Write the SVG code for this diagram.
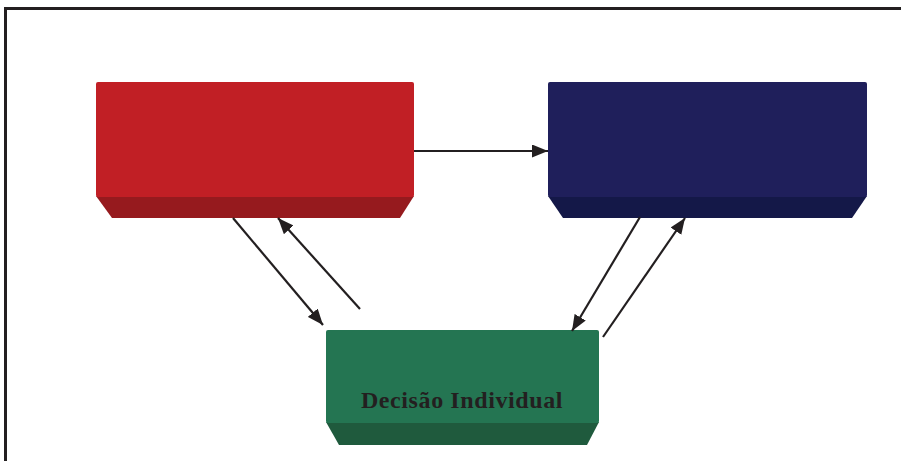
<svg xmlns="http://www.w3.org/2000/svg" width="901" height="461" viewBox="0 0 901 461">
<defs>
<style>
.frame{fill:none;stroke:#231f20;stroke-width:3}
.conn{stroke:#231f20;stroke-width:2.2;fill:none;marker-end:url(#ah)}
.lbl{font-family:"Liberation Serif","Times New Roman",serif;font-weight:bold;font-size:24px;letter-spacing:0.6px;fill:#231f20;text-anchor:middle}
</style>
<marker id="ah" viewBox="0 0 16 13" refX="16" refY="6.5" markerWidth="16" markerHeight="13" markerUnits="userSpaceOnUse" orient="auto">
<path d="M0,0 L16,6.5 L0,13 Z" fill="#231f20"/>
</marker>
</defs>
<rect width="901" height="461" fill="#ffffff"/>
<path class="frame" d="M5.5,461 V8.5 H901"/>
<g id="node-red">
<polygon points="96,196 414,196 400,218 112,218" fill="#961a1e"/>
<rect x="96" y="82" width="318" height="115" rx="2" fill="#c11f25"/>
</g>
<g id="node-blue">
<polygon points="548,196 867,196 852,218 563,218" fill="#141848"/>
<rect x="548" y="82" width="319" height="115" rx="2" fill="#1f1f5b"/>
</g>
<g id="node-green">
<polygon points="326,422 599,422 587,445 339,445" fill="#1f5a3d"/>
<rect x="326" y="330" width="273" height="93" rx="2" fill="#247552"/>
<text class="lbl" x="462" y="408">Decisão Individual</text>
</g>
<g id="connectors">
<line class="conn" x1="414" y1="151" x2="548" y2="151"/>
<line class="conn" x1="233" y1="218" x2="323" y2="325"/>
<line class="conn" x1="360" y1="309" x2="278" y2="218"/>
<line class="conn" x1="640" y1="217" x2="572" y2="331"/>
<line class="conn" x1="603" y1="337" x2="685" y2="218"/>
</g>
</svg>
